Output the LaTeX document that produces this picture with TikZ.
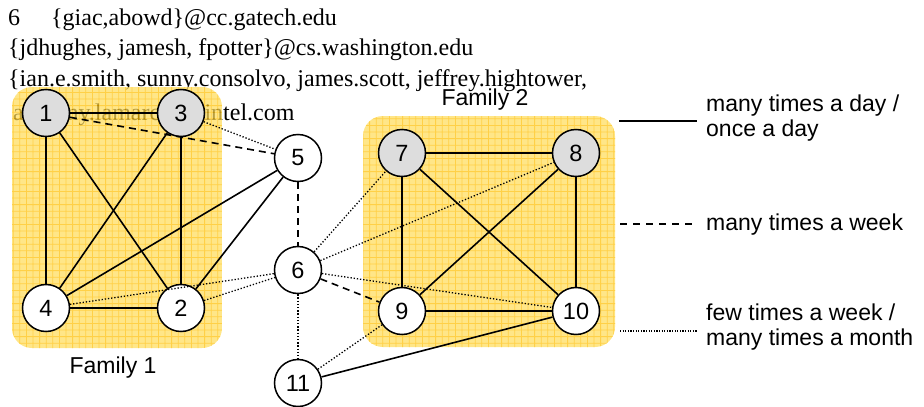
\documentclass[tikz,border=0pt]{standalone}
\usepackage{fontspec}
\setmainfont{Liberation Sans}
\newfontfamily\serifft{Liberation Serif}
\definecolor{famfill}{RGB}{255,220,90}
\definecolor{famgrid}{RGB}{255,190,0}
\definecolor{nodegray}{RGB}{221,221,221}
\tikzset{
  nd/.style={circle, draw, line width=1.5pt, minimum size=47pt, inner sep=0pt, fill=white, font=\fontsize{23.5}{23.5}\selectfont},
  gnd/.style={nd, fill=nodegray},
  sol/.style={line width=1.6pt},
  dsh/.style={line width=1.6pt, dash pattern=on 7pt off 5pt},
  dtt/.style={line width=1.3pt, dash pattern=on 1.3pt off 1.9pt},
  lbl/.style={font=\fontsize{23}{25}\selectfont, inner sep=0pt},
  toptext/.style={font=\serifft\fontsize{24}{24}\selectfont, inner sep=0pt, anchor=base west},
}
\newcommand\famblock[4]{%
  \begin{scope}[transparency group, opacity=0.72]
    \clip[rounded corners=20pt] (#1,#2) rectangle (#3,#4);
    \fill[famfill] (#1,#2) rectangle (#3,#4);
    \draw[famgrid, line width=0.8pt, step=6.6pt] (#1,#2) grid (#3,#4);
  \end{scope}}
\begin{document}
\begin{tikzpicture}[x=1pt,y=-1pt]
\useasboundingbox (0,0) rectangle (924,407);
% top text (lies under the family boxes)
\node[toptext] (t1a) at (8,25) {6};
\node[toptext] (t1b) at (51,25) {\{giac,abowd\}@cc.gatech.edu};
\node[toptext] (t2) at (8,55) {\{jdhughes, jamesh, fpotter\}@cs.washington.edu};
\node[toptext] (t3) at (8,86) {\{ian.e.smith, sunny.consolvo, james.scott, jeffrey.hightower,};
\node[toptext] (t4) at (13,120) {anthony.lamarca\}@intel.com};
% family boxes
\famblock{12}{87}{222}{348}
\famblock{363}{116}{615}{347}
% labels
\node[lbl] (f1) at (113,368) {Family 1};
\node[lbl] (f2) at (485,100) {Family 2};
% nodes
\node[gnd] (n1) at (46,113) {1};
\node[gnd] (n3) at (181,113) {3};
\node[nd] (n4) at (46,308) {4};
\node[nd] (n2) at (181,308) {2};
\node[nd] (n5) at (298,158) {5};
\node[nd] (n6) at (298,270) {6};
\node[nd] (n11) at (298,383) {11};
\node[gnd] (n7) at (402,153) {7};
\node[gnd] (n8) at (576,153) {8};
\node[nd] (n9) at (402,311) {9};
\node[nd] (n10) at (576,311) {10};
% family 1 edges
\draw[sol] (n1) -- (n3);
\draw[sol] (n1) -- (n4);
\draw[sol] (n1) -- (n2);
\draw[sol] (n3) -- (n4);
\draw[sol] (n3) -- (n2);
\draw[sol] (n4) -- (n2);
\draw[dsh] (n1) -- (n5);
\draw[dtt] (n3) -- (n5);
\draw[sol] (n4) -- (n5);
\draw[sol] (n2) -- (n5);
\draw[dtt] (n4) -- (n6);
\draw[dtt] (n2) -- (n6);
\draw[dsh] (n5) -- (n6);
% middle edges
\draw[dtt] (n6) -- (n7);
\draw[dtt] (n6) -- (n8);
\draw[dtt] (n6) -- (n10);
\draw[dsh] (n6) -- (n9);
\draw[dtt] (n6) -- (n11);
\draw[dtt] (n11) -- (n9);
\draw[sol] (n11) -- (n10);
% family 2 edges
\draw[sol] (n7) -- (n8);
\draw[sol] (n7) -- (n9);
\draw[sol] (n7) -- (n10);
\draw[sol] (n8) -- (n9);
\draw[sol] (n8) -- (n10);
\draw[sol] (n9) -- (n10);
% legend
\coordinate (la1) at (619,121); \coordinate (lb1) at (697,121);
\coordinate (la2) at (620,224); \coordinate (lb2) at (697,224);
\coordinate (la3) at (620,331); \coordinate (lb3) at (697,331);
\draw[sol] (la1) -- (lb1);
\draw[line width=1.4pt, dash pattern=on 7pt off 6pt] (la2) -- (lb2);
\draw[line width=1.2pt, dash pattern=on 1.2pt off 1.4pt] (la3) -- (lb3);
\node[lbl, anchor=west, align=left] (lt1) at (706,118) {many times a day /\\once a day};
\node[lbl, anchor=west] (lt2) at (706,225) {many times a week};
\node[lbl, anchor=west, align=left] (lt3) at (706,327) {few times a week /\\many times a month};
\end{tikzpicture}
\end{document}
